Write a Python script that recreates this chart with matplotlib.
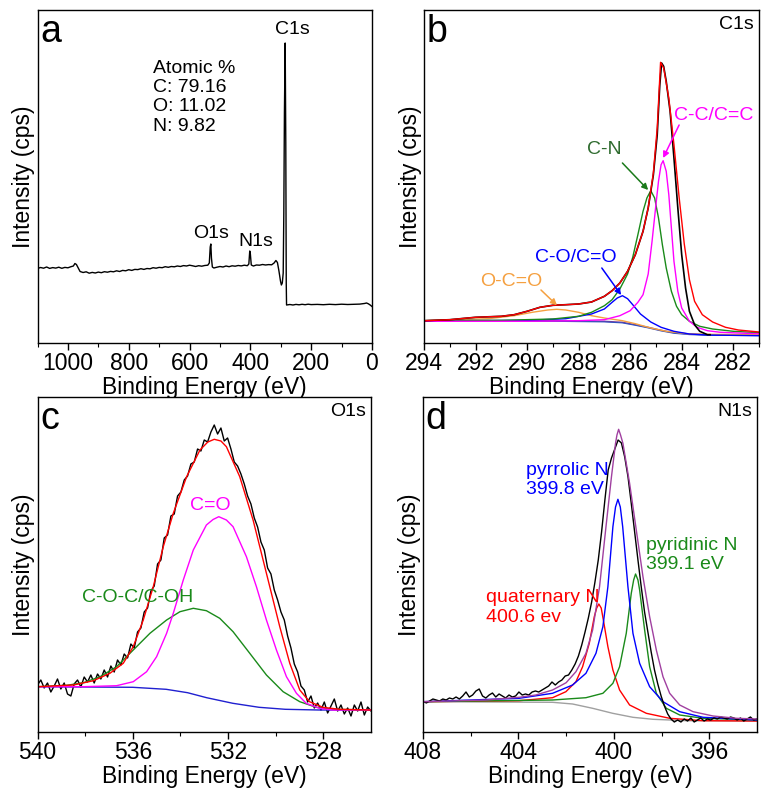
import numpy as np
import matplotlib
matplotlib.use("Agg")
import matplotlib.pyplot as plt
from matplotlib import font_manager
from matplotlib.font_manager import FontProperties

_names = {f.name for f in font_manager.fontManager.ttflist}
MAIN = "Liberation Sans" if "Liberation Sans" in _names else "DejaVu Sans"
plt.rcParams["font.family"] = [MAIN, "DejaVu Sans"]

# look for a narrow sans face for tick labels (Arial-Narrow-like)
_narrow_file = None
for f in font_manager.fontManager.ttflist:
    fn = f.fname.replace("-", "").replace("_", "").lower()
    if "liberationsansnarrow" in fn and "bold" not in fn and "italic" not in fn:
        _narrow_file = f.fname
        break

# ---------------- Panel a: survey ----------------
survey_E = [1100, 1090, 1080, 1070, 1060, 1050, 1040, 1030, 1020, 1010, 1000, 990, 982, 977, 972, 966,
            960, 950, 940, 930, 920, 910, 900, 890, 880, 870, 860, 850, 840, 830, 820, 810, 800, 790,
            780, 770, 760, 750, 740, 730, 720, 710, 700, 690, 680, 670, 660, 650, 640, 630, 620, 610,
            600, 590, 580, 570, 560, 550, 540, 535, 532, 530, 528, 525, 520, 510, 500, 490, 480, 470,
            460, 450, 440, 430, 420, 410, 405, 402, 400, 397, 390, 380, 370, 360, 350, 340, 330, 322,
            316, 311, 306, 301, 298, 295, 292, 290, 288, 285.5, 283.5, 282, 281, 270, 260, 250, 240,
            230, 220, 210, 200, 180, 160, 140, 120, 100, 80, 60, 40, 25, 18, 12, 6, 0]
survey_I = [74.5, 75.5, 74.8, 76.0, 74.6, 75.4, 74.9, 75.8, 74.7, 75.6, 75.2, 76.3, 77.0, 79.5, 78.5, 75.0,
            71.5, 70.5, 71.2, 69.8, 70.6, 70.0, 70.9, 70.3, 71.3, 70.8, 71.6, 71.2, 72.2, 71.5, 72.6, 72.2, 73.3, 72.6,
            73.6, 73.4, 74.3, 73.6, 74.5, 74.2, 75.3, 74.8, 75.6, 75.3, 76.3, 75.7, 76.5, 76.2, 77.0, 76.5, 77.4, 77.0,
            77.8, 77.2, 76.5, 77.3, 76.8, 77.5, 77.8, 80.0, 96.0, 99.0, 85.0, 76.0, 75.0, 75.8, 76.5, 76.0, 77.0, 76.3,
            77.2, 76.8, 77.5, 77.1, 77.8, 77.3, 79.0, 92.0, 89.0, 78.0, 77.0, 78.0, 77.8, 78.5, 78.0, 78.4, 78.2, 80.0,
            82.5, 80.5, 72.0, 62.0, 58.0, 60.0, 70.0, 130.0, 230.0, 300.0, 200.0, 60.0, 38.0, 38.5, 38.0, 38.6, 38.2,
            38.7, 38.3, 38.8, 38.4, 38.6, 38.3, 38.7, 38.4, 38.8, 38.5, 38.7, 38.9, 39.5, 40.0, 39.2, 38.0, 36.5]
atomic_lines = ["Atomic %", "C: 79.16", "O: 11.02", "N: 9.82"]

# ---------------- Panel b: C1s ----------------
c1s_data_E = [294, 293, 292, 291, 290.5, 290, 289.5, 289, 288.5, 288, 287.5, 287, 286.7, 286.4, 286.1, 285.8,
              285.5, 285.3, 285.1, 284.95, 284.85, 284.78, 284.7, 284.6, 284.45, 284.3, 284.15, 284.0, 283.85,
              283.7, 283.5, 283.3, 283.0, 282.9]
c1s_data_I = [22.3, 23.3, 25.7, 26.7, 28.3, 31.7, 35.7, 37.7, 38.3, 39.0, 41.0, 46.7, 52.3, 60.0, 71.7, 88.3,
              111.7, 135.0, 168.0, 208.0, 258.0, 280.0, 276.7, 261.7, 231.7, 185.0, 135.0, 88.3, 55.0,
              31.7, 18.3, 11.7, 8.3, 8.3]
c1s_env_E = [294, 293, 292, 291, 290.5, 290, 289.5, 289, 288.5, 288, 287.5, 287, 286.7, 286.4, 286.1, 285.8,
             285.5, 285.3, 285.1, 284.95, 284.82, 284.7, 284.5, 284.3, 284.1, 283.9, 283.7, 283.5, 283.2,
             282.8, 282.3, 281.8, 281]
c1s_env_I = [22.3, 23.3, 25.7, 26.7, 28.3, 31.7, 35.7, 37.7, 38.3, 39.0, 41.0, 46.7, 52.3, 60.0, 71.7, 88.3,
             111.7, 135.0, 170.0, 215.0, 280.7, 275.0, 245.0, 198.3, 145.7, 99.0, 63.3, 41.7, 28.3,
             21.0, 15.7, 13.0, 11.0]
cc_E = [294, 290, 288, 287, 286.4, 286.0, 285.7, 285.5, 285.3, 285.15, 285.0, 284.9, 284.8, 284.72, 284.6,
        284.5, 284.4, 284.3, 284.15, 284.0, 283.7, 283.4, 283.0, 282.5, 281.5, 281]
cc_I = [21.7, 21.7, 22.3, 23.3, 27.3, 32.3, 40.7, 48.3, 69.0, 101.7, 138.3, 161.7, 178.3, 182.3, 171.7,
        148.3, 115.0, 81.7, 51.7, 35.0, 21.7, 15.7, 12.3, 10.7, 9.7, 9.3]
cn_E = [294, 291, 289, 288, 287.5, 287, 286.7, 286.4, 286.1, 285.9, 285.7, 285.5, 285.35, 285.2, 285.05,
        284.9, 284.75, 284.6, 284.4, 284.2, 284.0, 283.7, 283.3, 282.8, 282, 281]
cn_I = [22.3, 22.7, 24.0, 26.7, 30.7, 37.3, 43.3, 54.0, 69.0, 85.7, 108.3, 131.7, 145.0, 152.3, 145.0,
        125.0, 98.3, 75.0, 51.7, 36.7, 28.3, 21.7, 16.7, 14.0, 11.7, 10.3]
co_E = [294, 290, 288.5, 287.5, 287, 286.7, 286.5, 286.3, 286.1, 285.9, 285.6, 285.2, 284.8, 284.3, 283.7,
        283, 281]
co_I = [22.3, 22.6, 24.3, 29.0, 34.0, 40.7, 45.0, 47.3, 44.3, 38.3, 29.0, 21.0, 15.7, 11.7, 9.0, 8.0, 7.3]
occ_E = [294, 291.5, 290.5, 289.8, 289.2, 288.85, 288.5, 288, 287.5, 287, 286.3, 285.8, 285.2, 284.6,
         283.8, 283, 281]
occ_I = [22.3, 24.3, 27.3, 30.7, 33.0, 33.7, 33.0, 30.7, 27.3, 25.0, 22.3, 19.3, 15.0, 11.7, 9.3, 8.7, 8.3]
c1s_bg_E = [294, 289, 287, 286.3, 285.8, 285.3, 284.8, 284.3, 283.7, 283, 281]
c1s_bg_I = [22.3, 22.3, 21.7, 20.7, 18.3, 15.7, 12.7, 10.3, 9.0, 8.3, 8.0]

# ---------------- Panel c: O1s ----------------
o1s_data_I = [47, 52, 44, 49, 40, 46, 53, 43, 49, 38, 36, 48, 52, 45, 55, 50, 57, 49, 58, 53, 62, 55, 66, 60,
              72, 67, 78, 74, 88, 84, 100, 104, 120, 124, 141, 146, 168, 172, 194, 197, 216, 218, 236, 240,
              252, 256, 268, 270, 283, 281, 292, 290, 300, 307, 298, 304, 291, 294, 283, 270, 266, 258, 248,
              236, 228, 214, 205, 190, 182, 164, 158, 142, 132, 120, 112, 96, 84, 68, 60, 46, 42, 30, 36, 24,
              29, 22, 30, 19, 26, 33, 21, 27, 18, 24, 16, 27, 21, 30, 17, 25, 21]
o1s_env_E = [540.0, 538.49, 537.65, 536.96, 536.40, 535.98, 535.56, 535.14, 534.72, 534.30, 533.74, 533.18,
             532.85, 532.58, 532.3, 532.07, 531.51, 530.95, 530.39, 529.83, 529.41, 528.99, 528.58, 528.02,
             527.32, 526.0]
o1s_env_I = [45.3, 47.0, 51.3, 58.7, 68.7, 85.3, 112.0, 145.3, 185.3, 218.7, 255.3, 282.0, 290.0, 292.7,
             291.0, 285.3, 255.3, 212.0, 158.7, 105.3, 68.7, 42.0, 30.3, 24.7, 22.7, 22.0]
cdo_E = [540.0, 538.07, 536.68, 535.98, 535.42, 535.0, 534.58, 534.30, 533.88, 533.46, 532.91, 532.63,
         532.39, 532.07, 531.79, 531.23, 530.81, 530.39, 529.97, 529.55, 529.13, 528.72, 528.16, 527.6, 526.0]
cdo_I = [45.3, 45.3, 46.3, 50.3, 60.3, 75.3, 98.7, 118.7, 152.0, 182.0, 207.0, 212.5, 215.3, 212.0, 205.3,
         175.3, 145.3, 112.0, 82.0, 55.3, 38.7, 28.7, 23.7, 22.0, 22.0]
coc_E = [540.0, 538.77, 538.07, 537.37, 536.68, 535.98, 535.28, 534.58, 534.02, 533.46, 532.91, 532.35,
         531.79, 531.09, 530.39, 529.69, 528.99, 528.30, 527.60, 526.0]
coc_I = [45.3, 46.7, 49.3, 55.3, 65.3, 82.0, 98.7, 112.0, 120.3, 123.7, 121.3, 113.7, 100.3, 78.7, 57.0,
         40.3, 30.3, 24.7, 22.7, 22.0]
o1s_bg_E = [540.0, 536.0, 534.6, 533.7, 532.9, 531.8, 530.7, 529.6, 528.2, 526.0]
o1s_bg_I = [45.3, 44.7, 42.7, 39.3, 34.3, 28.7, 24.7, 22.7, 22.0, 22.0]

# ---------------- Panel d: N1s ----------------
n1s_data_I = [31, 29, 31, 33, 32, 31, 33, 32, 34, 33, 35, 33, 36, 40, 35, 37, 41, 43, 36, 34, 37, 39, 35, 38,
              36, 34, 37, 35, 36, 40, 37, 38, 37, 40, 41, 40, 42, 44, 46, 50, 47, 50, 52, 56, 57, 62, 68, 76,
              87, 100, 114, 130, 150, 172, 200, 232, 262, 274, 283, 292, 289, 275, 255, 228, 200, 172, 145,
              120, 100, 80, 62, 48, 36, 26, 18, 13, 10, 12, 10, 13, 11, 14, 10, 12, 14, 11, 13, 12, 14, 13,
              15, 14, 13, 15, 14, 12, 14, 11, 13, 15, 12, 13]
n1s_env_E = [408, 405.37, 403.97, 403.27, 402.57, 402.0, 401.59, 401.17, 400.89, 400.6, 400.33, 400.1,
             399.93, 399.87, 399.8, 399.72, 399.62, 399.34, 399.06, 398.78, 398.5, 398.22, 397.94, 397.66,
             397.24, 396.68, 395.84, 394.86, 394]
n1s_env_I = [30.3, 32.0, 34.7, 37.0, 42.0, 49.3, 60.3, 78.7, 102.0, 145.3, 205.3, 255.3, 288.7, 297.0,
             302.7, 297.0, 288.7, 248.7, 202.0, 155.3, 115.3, 82.0, 55.3, 38.7, 27.0, 20.3, 16.0, 13.7, 13.0]
pyrrolic_E = [408, 403.97, 402.57, 401.73, 401.17, 400.75, 400.46, 400.25, 400.04, 399.93, 399.83, 399.73,
              399.63, 399.41, 399.20, 398.92, 398.50, 397.94, 397.24, 396.26, 394]
pyrrolic_I = [30.3, 33.7, 38.7, 47.0, 58.7, 78.7, 105.3, 145.3, 205.3, 225.0, 232.7, 225.0, 205.3, 145.3,
              98.7, 68.7, 45.3, 30.3, 20.3, 14.7, 12.0]
pyridinic_E = [408, 402.57, 401.17, 400.46, 400.04, 399.76, 399.48, 399.27, 399.17, 399.09, 398.99, 398.92,
               398.71, 398.50, 398.22, 397.80, 397.24, 396.26, 394]
pyridinic_I = [30.3, 32.0, 34.3, 38.7, 48.7, 65.3, 98.7, 138.7, 152.0, 158.0, 152.0, 142.0, 102.0, 65.3,
               38.7, 23.7, 17.0, 13.7, 12.0]
quaternary_E = [408, 403.97, 402.57, 402.01, 401.59, 401.31, 401.03, 400.82, 400.72, 400.63, 400.53, 400.44,
                400.25, 400.04, 399.76, 399.34, 398.64, 397.66, 396.26, 394]
quaternary_I = [30.3, 31.3, 34.3, 40.3, 50.3, 65.3, 88.7, 115.3, 124.0, 128.0, 124.0, 112.0, 85.3, 62.0,
                42.0, 27.0, 18.7, 13.7, 11.3, 11.0]
n1s_bg_E = [408, 402.57, 401.73, 400.89, 400.05, 399.2, 398.36, 396.96, 394]
n1s_bg_I = [30.3, 29.7, 28.0, 23.7, 18.7, 14.7, 12.7, 11.3, 11.0]

# energy grids of the measured narrow scans
o1s_data_E = np.linspace(540, 526, len(o1s_data_I))
n1s_data_E = np.linspace(408, 394, len(n1s_data_I))

# ================= drawing =================
W, H = 772, 797
fig = plt.figure(figsize=(W / 100, H / 100), dpi=100)
ax_a = fig.add_axes([37.5 / W, 1 - 343 / H, 334.5 / W, 333 / H])
ax_b = fig.add_axes([424 / W, 1 - 343 / H, 335 / W, 333 / H])
ax_c = fig.add_axes([37.5 / W, 1 - 732 / H, 333.5 / W, 335 / H])
ax_d = fig.add_axes([423 / W, 1 - 732 / H, 334 / W, 335 / H])

LW = 1.0
LAB_FS = 16.5
ANN_FS = 14
if _narrow_file:
    TICK_FP = FontProperties(fname=_narrow_file, size=18.5)
else:
    TICK_FP = FontProperties(family=MAIN, size=16.5)


def style(ax, xlim, major, minor, ymax):
    ax.set_xlim(*xlim)
    ax.set_ylim(0, ymax)
    ax.set_xticks(major)
    ax.set_xticks(minor, minor=True)
    ax.set_yticks([])
    ax.tick_params(axis="x", which="major", direction="out", length=5, width=1, pad=1.5)
    ax.tick_params(axis="x", which="minor", direction="out", length=3, width=0.8)
    for lab in ax.get_xticklabels():
        lab.set_fontproperties(TICK_FP)
    ax.set_xlabel("Binding Energy (eV)", fontsize=LAB_FS, labelpad=0.5)
    ax.set_ylabel("Intensity (cps)", fontsize=LAB_FS, labelpad=1.5)
    for s in ax.spines.values():
        s.set_linewidth(1.0)


def corner(ax, letter, tag):
    ax.text(0.008, 0.905, letter, transform=ax.transAxes, fontsize=27, va="baseline", ha="left")
    if tag:
        ax.text(0.985, 0.942, tag, transform=ax.transAxes, fontsize=ANN_FS, va="baseline", ha="right")


def stacked(ax, x, y0, lines, step, color):
    for k, t in enumerate(lines):
        ax.text(x, y0 - k * step, t, color=color, fontsize=ANN_FS, ha="left", va="baseline")


# ---- a
ax = ax_a
ax.plot(survey_E, survey_I, color="black", lw=LW)
style(ax, (1100, 0), [1000, 800, 600, 400, 200, 0], [1100, 900, 700, 500, 300, 100], 333)
corner(ax, "a", None)
ax.text(262, 314, "C1s", fontsize=ANN_FS, ha="center", va="center")
ax.text(530, 110, "O1s", fontsize=ANN_FS, ha="center", va="center")
ax.text(382, 101, "N1s", fontsize=ANN_FS, ha="center", va="center")
stacked(ax, 721, 270.3, atomic_lines, 19.3, "black")

# ---- b
ax = ax_b
ax.plot(c1s_bg_E, c1s_bg_I, color="#7a3a9a", lw=LW)
ax.plot(c1s_bg_E, [v - 0.6 for v in c1s_bg_I], color="#3050c0", lw=0.8)
ax.plot(occ_E, occ_I, color="#f5a040", lw=LW)
ax.plot(co_E, co_I, color="#0000ff", lw=LW)
ax.plot(cn_E, cn_I, color="#1a8a1a", lw=LW)
ax.plot(cc_E, cc_I, color="#ff00ff", lw=LW)
ax.plot(c1s_data_E, c1s_data_I, color="black", lw=1.2)
ax.plot(c1s_env_E, c1s_env_I, color="#ff0000", lw=LW)
style(ax, (294, 281), [294, 292, 290, 288, 286, 284, 282], [293, 291, 289, 287, 285, 283, 281], 333)
corner(ax, "b", "C1s")

arrow_kw = dict(arrowstyle="-|>", lw=1.1, mutation_scale=9, shrinkA=0, shrinkB=0)
ax.text(282.75, 228, "C-C/C=C", color="#ff00ff", fontsize=ANN_FS, ha="center", va="center")
ax.annotate("", xy=(284.72, 185), xytext=(284.1, 218), arrowprops=dict(color="#ff00ff", **arrow_kw))
ax.text(287.0, 193, "C-N", color="#2f6b2f", fontsize=ANN_FS, ha="center", va="center")
ax.annotate("", xy=(285.3, 153), xytext=(286.3, 180), arrowprops=dict(color="#1a7a1a", **arrow_kw))
ax.text(288.1, 85, "C-O/C=O", color="#0000ff", fontsize=ANN_FS, ha="center", va="center")
ax.annotate("", xy=(286.35, 48), xytext=(287.1, 75), arrowprops=dict(color="#0000ff", **arrow_kw))
ax.text(290.6, 62, "O-C=O", color="#f5a040", fontsize=ANN_FS, ha="center", va="center")
ax.annotate("", xy=(288.84, 37.7), xytext=(289.46, 53), arrowprops=dict(color="#f5a040", **arrow_kw))

# ---- c
ax = ax_c
ax.plot(o1s_data_E, o1s_data_I, color="black", lw=LW)
ax.plot(o1s_bg_E, o1s_bg_I, color="#2020d0", lw=LW)
ax.plot(coc_E, coc_I, color="#1a8a1a", lw=LW)
ax.plot(cdo_E, cdo_I, color="#ff00ff", lw=LW)
ax.plot(o1s_env_E, o1s_env_I, color="#ff0000", lw=LW)
style(ax, (540, 526), [540, 536, 532, 528], [538, 534, 530], 335)
corner(ax, "c", "O1s")
ax.text(532.75, 226, "C=O", color="#ff00ff", fontsize=ANN_FS, ha="center", va="center")
ax.text(535.8, 135, "C-O-C/C-OH", color="#1a8a1a", fontsize=ANN_FS, ha="center", va="center")

# ---- d
ax = ax_d
ax.plot(n1s_bg_E, n1s_bg_I, color="#a0a0a0", lw=LW)
ax.plot(quaternary_E, quaternary_I, color="#ff0000", lw=LW)
ax.plot(pyridinic_E, pyridinic_I, color="#1a8a1a", lw=LW)
ax.plot(pyrrolic_E, pyrrolic_I, color="#0000ff", lw=LW)
ax.plot(n1s_data_E, n1s_data_I, color="black", lw=LW)
ax.plot(n1s_env_E, n1s_env_I, color="#a040a0", lw=LW)
style(ax, (408, 394), [408, 404, 400, 396], [406, 402, 398], 335)
corner(ax, "d", "N1s")
stacked(ax, 403.69, 257, ["pyrrolic N", "399.8 eV"], 19.3, "#0000ff")
stacked(ax, 398.67, 182, ["pyridinic N", "399.1 eV"], 19.3, "#1a8a1a")
stacked(ax, 405.34, 129.7, ["quaternary N", "400.6 ev"], 19.3, "#ff0000")

fig.savefig("out.png", dpi=100)
